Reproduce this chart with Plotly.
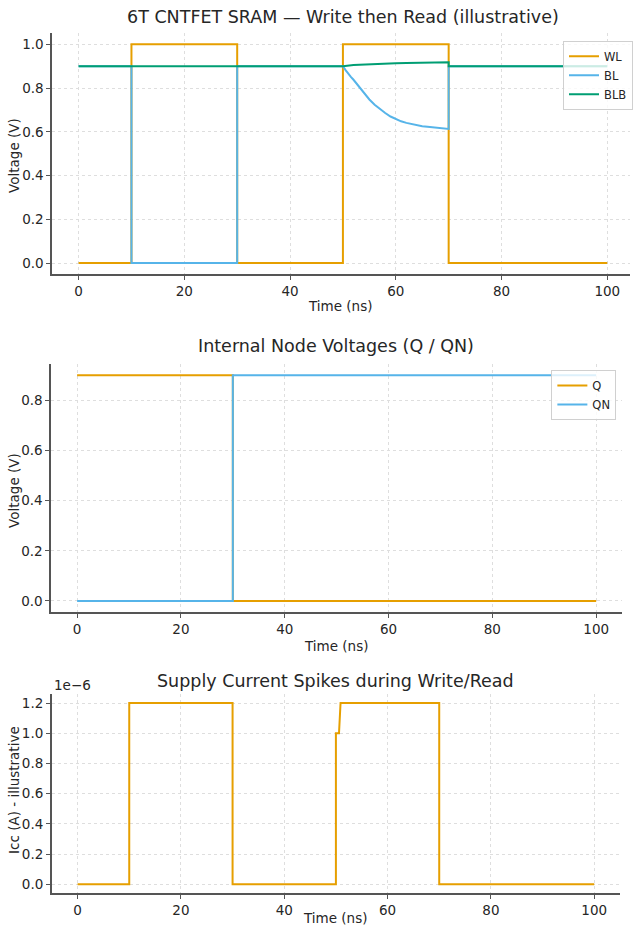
import plotly.graph_objects as go

# ---------------- data ----------------
# Panel 1: word line / bit lines
t_wl = [0, 10, 10, 30, 30, 50, 50, 70, 70, 100]
wl   = [0, 0, 1, 1, 0, 0, 1, 1, 0, 0]

t_bl = [0, 10, 10, 30, 30, 50, 50.5, 51, 51.5, 52, 53, 54, 55, 56, 57, 58, 59, 60,
        61, 62, 63, 64, 65, 66, 67, 68, 69, 70, 70, 100]
bl   = [0.9, 0.9, 0.0, 0.0, 0.9, 0.900, 0.882, 0.865, 0.851, 0.838, 0.807, 0.777, 0.748,
        0.724, 0.703, 0.686, 0.670, 0.658, 0.648, 0.641, 0.635, 0.630,
        0.626, 0.623, 0.620, 0.618, 0.616, 0.613, 0.9, 0.9]

t_blb = [0, 50, 52, 54, 56, 58, 60, 62, 64, 66, 68, 70, 70, 100]
blb   = [0.9, 0.900, 0.905, 0.908, 0.911, 0.913, 0.914, 0.915, 0.916,
         0.917, 0.917, 0.918, 0.9, 0.9]

# Panel 2: internal nodes
t_q = [0, 30, 30, 100]
q   = [0.9, 0.9, 0.0, 0.0]
qn  = [0.0, 0.0, 0.9, 0.9]

# Panel 3: supply current
t_icc = [0, 10, 10, 30, 30, 50, 50, 50.6, 50.9, 70, 70, 100]
icc   = [0, 0, 1.2e-6, 1.2e-6, 0, 0, 1.0e-6, 1.0e-6, 1.2e-6, 1.2e-6, 0, 0]

x_ticks = [0, 20, 40, 60, 80, 100]
v1_ticks = [0.0, 0.2, 0.4, 0.6, 0.8, 1.0]
v2_ticks = [0.0, 0.2, 0.4, 0.6, 0.8]
i_ticks = [0.0, 0.2e-6, 0.4e-6, 0.6e-6, 0.8e-6, 1.0e-6, 1.2e-6]
i_tick_text = ["0.0", "0.2", "0.4", "0.6", "0.8", "1.0", "1.2"]

ORANGE = "#E69F00"
BLUE = "#56B4E9"
GREEN = "#009E73"

W, H = 633, 930
def px(x):
    return x / W
def py(y):
    return 1 - y / H

FONT = "DejaVu Sans"
TXT = "#262626"

fig = go.Figure()
lw = 2
fig.add_trace(go.Scatter(x=t_wl, y=wl, mode="lines", name="WL",
                         line=dict(color=ORANGE, width=lw), xaxis="x", yaxis="y", legend="legend"))
fig.add_trace(go.Scatter(x=t_bl, y=bl, mode="lines", name="BL",
                         line=dict(color=BLUE, width=lw), xaxis="x", yaxis="y", legend="legend"))
fig.add_trace(go.Scatter(x=t_blb, y=blb, mode="lines", name="BLB",
                         line=dict(color=GREEN, width=lw), xaxis="x", yaxis="y", legend="legend"))

fig.add_trace(go.Scatter(x=t_q, y=q, mode="lines", name="Q",
                         line=dict(color=ORANGE, width=lw), xaxis="x2", yaxis="y2", legend="legend2"))
fig.add_trace(go.Scatter(x=t_q, y=qn, mode="lines", name="QN",
                         line=dict(color=BLUE, width=lw), xaxis="x2", yaxis="y2", legend="legend2"))

fig.add_trace(go.Scatter(x=t_icc, y=icc, mode="lines", name="Icc", showlegend=False,
                         line=dict(color=ORANGE, width=lw), xaxis="x3", yaxis="y3"))

axis_common = dict(
    showline=True, linecolor="#555555", linewidth=1.5,
    ticks="outside", ticklen=4, tickwidth=1.2, tickcolor="#555555",
    showgrid=True, gridcolor="#dedede", gridwidth=0.8, griddash="3px,3px",
    zeroline=False, tickfont=dict(family=FONT, size=13.5, color=TXT),
    mirror=False,
)

fig.update_layout(
    width=W, height=H,
    margin=dict(l=0, r=0, t=0, b=0),
    paper_bgcolor="white", plot_bgcolor="white",
    font=dict(family=FONT, color=TXT),
    xaxis=dict(domain=[px(52.4), 1.0], range=[-5, 104.3], tickvals=x_ticks,
               anchor="y", **axis_common),
    yaxis=dict(domain=[py(274), py(33.4)], range=[-0.05, 1.05], tickvals=v1_ticks,
               tickformat=".1f", anchor="x", **axis_common),
    xaxis2=dict(domain=[px(51.4), px(625.1)], range=[-5, 105], tickvals=x_ticks,
                anchor="y2", **axis_common),
    yaxis2=dict(domain=[py(612.2), py(364)], range=[-0.045, 0.945], tickvals=v2_ticks,
                tickformat=".1f", anchor="x2", **axis_common),
    xaxis3=dict(domain=[px(52), px(623)], range=[-5, 105], tickvals=x_ticks,
                anchor="y3", **axis_common),
    yaxis3=dict(domain=[py(893.3), py(694)], range=[-0.06e-6, 1.26e-6], tickvals=i_ticks,
                ticktext=i_tick_text, anchor="x3", **axis_common),
    legend=dict(x=px(566), y=py(40.7), xanchor="left", yanchor="top",
                bgcolor="rgba(255,255,255,0.8)", bordercolor="#d0d0d0", borderwidth=1,
                font=dict(family=FONT, size=11.5, color=TXT), itemwidth=30,
                tracegroupgap=0),
    legend2=dict(x=px(619.3), y=py(370), xanchor="right", yanchor="top",
                 bgcolor="rgba(255,255,255,0.8)", bordercolor="#d0d0d0", borderwidth=1,
                 font=dict(family=FONT, size=11.5, color=TXT), itemwidth=30,
                 tracegroupgap=0),
    showlegend=True,
)

ann = []
def text(x, y, s, size, angle=0, xanchor="center"):
    ann.append(dict(x=px(x), y=py(y), xref="paper", yref="paper", text=s,
                    showarrow=False, xanchor=xanchor, yanchor="middle", textangle=angle,
                    font=dict(family=FONT, size=size, color=TXT)))

# titles
text(345, 17, "6T CNTFET SRAM — Write then Read (illustrative)", 17.5)
text(338, 346, "Internal Node Voltages (Q / QN)", 17.5)
text(337, 681, "Supply Current Spikes during Write/Read", 17.5)
# axis labels
text(342, 306, "Time (ns)", 13.5)
text(338, 646, "Time (ns)", 13.5)
text(337, 918, "Time (ns)", 13.5)
text(14, 155, "Voltage (V)", 13.5, angle=-90)
text(14, 490, "Voltage (V)", 13.5, angle=-90)
text(14, 790, "Icc (A) - illustrative", 13.5, angle=-90)
# offset text
text(52, 685, "1e−6", 13.5, xanchor="left")

fig.update_layout(annotations=ann)

fig.write_html("out.html",
               config={"displayModeBar": False},
               post_script="document.body.style.margin='0';document.body.style.padding='0';")
